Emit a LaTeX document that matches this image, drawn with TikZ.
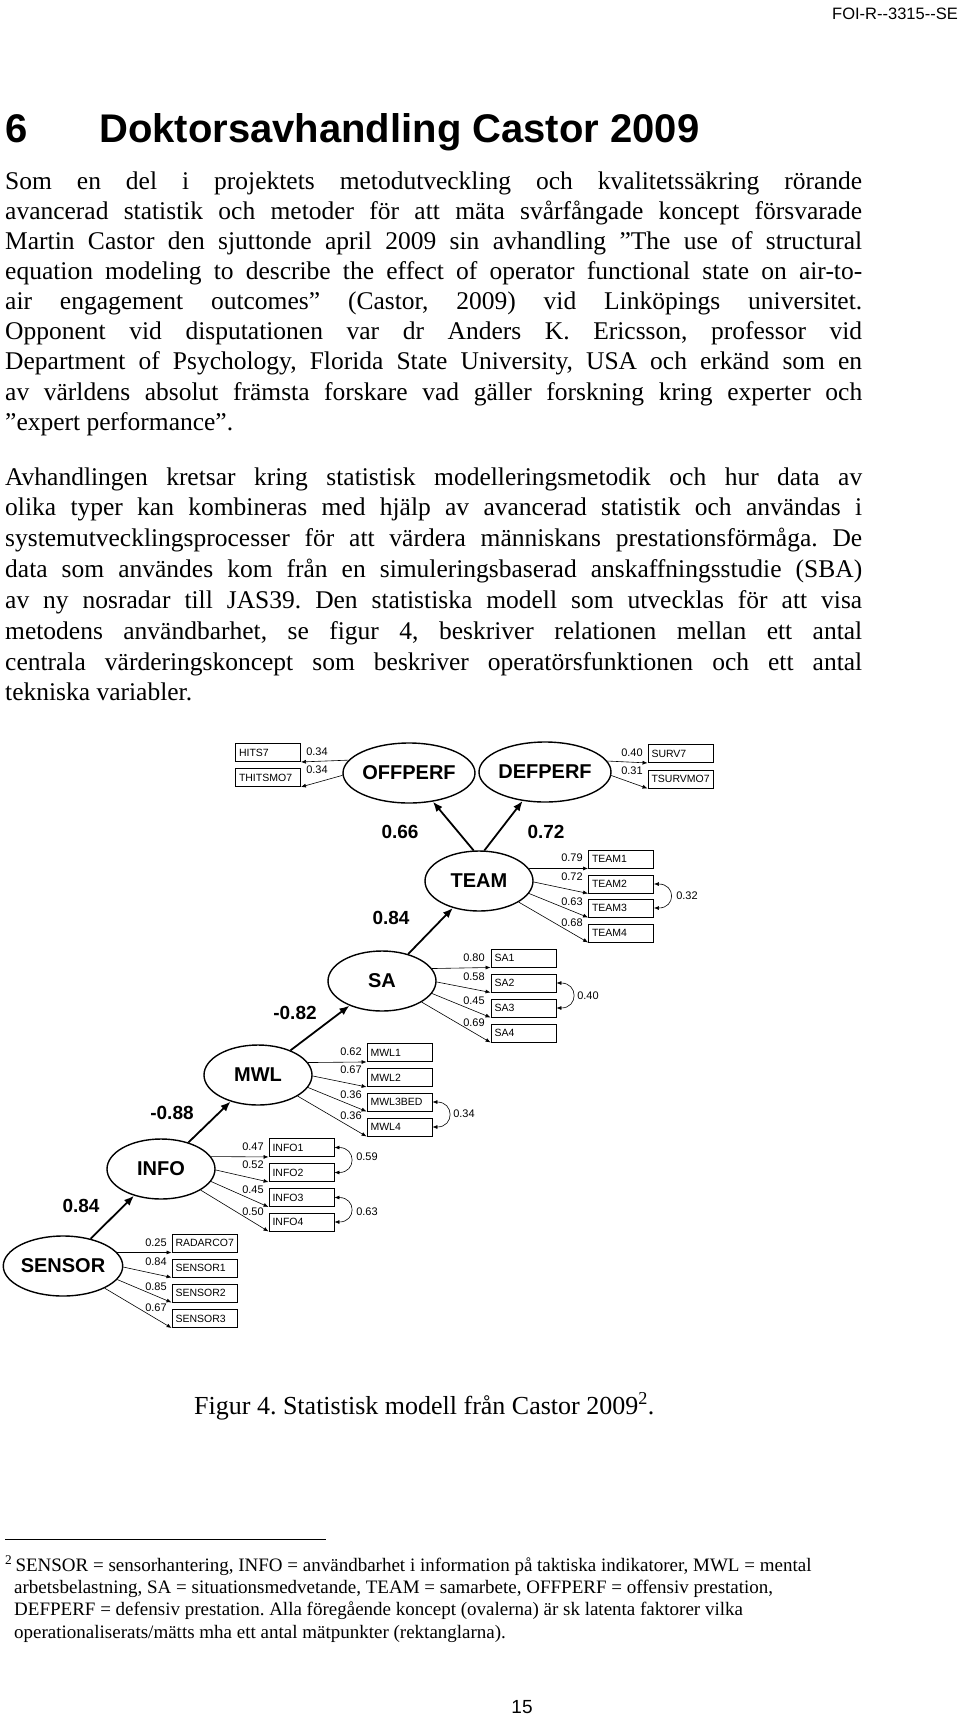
\documentclass[tikz,border=0pt]{standalone}
\usepackage{fontspec}
\setmainfont{Liberation Serif}
\newfontfamily\arialf{Liberation Sans}
\usetikzlibrary{arrows.meta,shapes.geometric}
\frenchspacing
\tikzset{
  lat/.style={ellipse,draw,line width=1.4pt,inner sep=0pt,minimum width=108pt,minimum height=60pt,font=\arialf\fontsize{20}{20}\selectfont\bfseries},
  obs/.style={rectangle,draw,line width=0.9pt,inner sep=0pt,minimum width=65pt,minimum height=18pt,text width=58pt,align=left,font=\arialf\fontsize{10.5}{10.5}\selectfont},
  coef/.style={font=\arialf\fontsize{19}{19}\selectfont\bfseries},
  ld/.style={font=\arialf\fontsize{11}{11}\selectfont,inner sep=0pt},
  thin/.style={line width=0.6pt,-{Latex[length=5pt,width=4pt]}},
  thick/.style={line width=1.8pt,-{Latex[length=10pt,width=8pt]}},
  cov/.style={line width=0.6pt,{Latex[length=5pt,width=4pt]}-{Latex[length=5pt,width=4pt]}},
  bl/.style={anchor=base west,inner sep=0pt,font=\fontsize{25.5}{25.5}\selectfont\frenchspacing},
  fn/.style={anchor=base west,inner sep=0pt,font=\fontsize{19}{19}\selectfont\frenchspacing}
}
\newcommand{\jl}[1]{\makebox[857pt][s]{#1}}
\begin{document}
\begin{tikzpicture}[x=1pt,y=-1pt]
\useasboundingbox[fill=white] (0,0) rectangle (960,1717);
% header
\node[anchor=base east,inner sep=0pt,font=\arialf\fontsize{16.5}{16.5}\selectfont] (hdr) at (958,19) {FOI-R--3315--SE};
\node[anchor=base west,inner sep=0pt,font=\arialf\fontsize{40}{40}\selectfont\bfseries] (h6) at (5,142) {6};
\node[anchor=base west,inner sep=0pt,font=\arialf\fontsize{40}{40}\selectfont\bfseries] (h) at (99,142) {Doktorsavhandling Castor 2009};
% paragraph 1
\node[bl] (p1a) at (5,189) {\jl{Som en del i projektets metodutveckling och kvalitetssäkring rörande}};
\node[bl] (p1b) at (5,219.1) {\jl{avancerad statistik och metoder för att mäta svårfångade koncept försvarade}};
\node[bl] (p1c) at (5,249.3) {\jl{Martin Castor den sjuttonde april 2009 sin avhandling ”The use of structural}};
\node[bl] (p1d) at (5,279.4) {\jl{equation modeling to describe the effect of operator functional state on air-to-}};
\node[bl] (p1e) at (5,309.6) {\jl{air engagement outcomes” (Castor, 2009) vid Linköpings universitet.}};
\node[bl] (p1f) at (5,339.7) {\jl{Opponent vid disputationen var dr Anders K. Ericsson, professor vid}};
\node[bl] (p1g) at (5,369.8) {\jl{Department of Psychology, Florida State University, USA och erkänd som en}};
\node[bl] (p1h) at (5,400) {\jl{av världens absolut främsta forskare vad gäller forskning kring experter och}};
\node[bl] (p1i) at (5,430.1) {”expert performance”.};
% paragraph 2
\node[bl] (p2a) at (5,485) {\jl{Avhandlingen kretsar kring statistisk modelleringsmetodik och hur data av}};
\node[bl] (p2b) at (5,515.8) {\jl{olika typer kan kombineras med hjälp av avancerad statistik och användas i}};
\node[bl] (p2c) at (5,546.7) {\jl{systemutvecklingsprocesser för att värdera människans prestationsförmåga. De}};
\node[bl] (p2d) at (5,577.5) {\jl{data som användes kom från en simuleringsbaserad anskaffningsstudie (SBA)}};
\node[bl] (p2e) at (5,608.4) {\jl{av ny nosradar till JAS39. Den statistiska modell som utvecklas för att visa}};
\node[bl] (p2f) at (5,639.2) {\jl{metodens användbarhet, se figur 4, beskriver relationen mellan ett antal}};
\node[bl] (p2g) at (5,670.1) {\jl{centrala värderingskoncept som beskriver operatörsfunktionen och ett antal}};
\node[bl] (p2h) at (5,700.9) {tekniska variabler.};
% latent variables
\node[lat] (offperf) at (409,773) {OFFPERF};
\node[lat] (defperf) at (545,772) {DEFPERF};
\node[lat] (team) at (479,881) {TEAM};
\node[lat] (sa) at (382,981) {SA};
\node[lat] (mwl) at (258,1075) {MWL};
\node[lat] (info) at (161,1169) {INFO};
\node[lat] (sensor) at (63,1266) {SENSOR};
% observed
\node[obs] (hits7) at (268,752.5) {HITS7};
\node[obs] (thitsmo7) at (268,777.5) {THITSMO7};
\node[obs] (surv7) at (680.5,753.5) {SURV7};
\node[obs] (tsurvmo7) at (680.5,779) {TSURVMO7};
\foreach \n/\y in {1/859,2/884,3/908,4/933}{\node[obs] (team\n) at (621,\y) {TEAM\n};}
\foreach \n/\y in {1/958,2/983,3/1008,4/1033}{\node[obs] (sa\n) at (523.5,\y) {SA\n};}
\node[obs] (mwl1) at (399.5,1052.5) {MWL1};
\node[obs] (mwl2) at (399.5,1077.5) {MWL2};
\node[obs] (mwl3) at (399.5,1102) {MWL3BED};
\node[obs] (mwl4) at (399.5,1127) {MWL4};
\foreach \n/\y in {1/1147.5,2/1172.5,3/1197.5,4/1222}{\node[obs] (info\n) at (301.5,\y) {INFO\n};}
\node[obs] (sen0) at (204.5,1243) {RADARCO7};
\node[obs] (sen1) at (204.5,1268) {SENSOR1};
\node[obs] (sen2) at (204.5,1293) {SENSOR2};
\node[obs] (sen3) at (204.5,1318.5) {SENSOR3};
% structural arrows
\draw[thick] (sensor) -- (info);
\draw[thick] (info) -- (mwl);
\draw[thick] (mwl) -- (sa);
\draw[thick] (sa) -- (team);
\draw[thick] (team.100) -- (offperf);
\draw[thick] (team.80) -- (defperf);
\node[coef] (c1) at (81,1206) {0.84};
\node[coef] (c2) at (172,1113) {-0.88};
\node[coef] (c3) at (295,1013) {-0.82};
\node[coef] (c4) at (391,918) {0.84};
\node[coef] (c5) at (400,832) {0.66};
\node[coef] (c6) at (546,832) {0.72};
% measurement arrows
\draw[thin] (offperf.168) -- (hits7.south east);
\draw[thin] (offperf.182) -- (thitsmo7.south east);
\draw[thin] (defperf.10) -- (surv7.south west);
\draw[thin] (defperf.-3) -- (tsurvmo7.south west);
\node[ld] (l1) at (317,752) {0.34};
\node[ld] (l2) at (317,770) {0.34};
\node[ld] (l3) at (632,753) {0.40};
\node[ld] (l4) at (632,771) {0.31};
\foreach \lv/\ob/\xl/\ya/\yb/\yc/\yd/\va/\vb/\vc/\vd in {
  team/team/572/858/877/902/923/0.79/0.72/0.63/0.68,
  sa/sa/474/958/977/1001/1023/0.80/0.58/0.45/0.69,
  mwl/mwl/351/1052/1070/1095/1116/0.62/0.67/0.36/0.36,
  info/info/253/1147/1165/1190/1212/0.47/0.52/0.45/0.50}{
  \draw[thin] (\lv.14) -- (\ob1.south west);
  \draw[thin] (\lv.-1) -- (\ob2.south west);
  \draw[thin] (\lv.-14) -- (\ob3.south west);
  \draw[thin] (\lv.-28) -- (\ob4.south west);
  \node[ld] at (\xl,\ya) {\va};
  \node[ld] at (\xl,\yb) {\vb};
  \node[ld] at (\xl,\yc) {\vc};
  \node[ld] at (\xl,\yd) {\vd};
}
\draw[thin] (sensor.14) -- (sen0.south west);
\draw[thin] (sensor.-1) -- (sen1.south west);
\draw[thin] (sensor.-14) -- (sen2.south west);
\draw[thin] (sensor.-28) -- (sen3.south west);
\node[ld] (s0) at (156,1243) {0.25};
\node[ld] (s1) at (156,1262) {0.84};
\node[ld] (s2) at (156,1287) {0.85};
\node[ld] (s3) at (156,1308) {0.67};
% covariances
\draw[cov] (team2.east) .. controls +(22,0) and +(22,0) .. (team3.east);
\node[ld] (k1) at (687,896) {0.32};
\draw[cov] (sa2.east) .. controls +(22,0) and +(22,0) .. (sa3.east);
\node[ld] (k2) at (588,996) {0.40};
\draw[cov] (mwl3.east) .. controls +(22,0) and +(22,0) .. (mwl4.east);
\node[ld] (k3) at (464,1114) {0.34};
\draw[cov] (info1.east) .. controls +(22,0) and +(22,0) .. (info2.east);
\node[ld] (k4) at (367,1157) {0.59};
\draw[cov] (info3.east) .. controls +(22,0) and +(22,0) .. (info4.east);
\node[ld] (k5) at (367,1212) {0.63};
% caption
\node[anchor=base west,inner sep=0pt,font=\fontsize{26}{26}\selectfont] (cap) at (194,1414) {Figur 4. Statistisk modell från Castor 2009\textsuperscript{2}.};
% footnote
\draw[line width=0.8pt] (5,1539) -- (326,1539);
\node[fn] (f0) at (5,1571) {\textsuperscript{2}\,SENSOR = sensorhantering, INFO = användbarhet i information på taktiska indikatorer, MWL = mental};
\node[fn] (f1) at (14,1593.4) {arbetsbelastning, SA = situationsmedvetande, TEAM = samarbete, OFFPERF = offensiv prestation,};
\node[fn] (f2) at (14,1615.8) {DEFPERF = defensiv prestation. Alla föregående koncept (ovalerna) är sk latenta faktorer vilka};
\node[fn] (f3) at (14,1638.2) {operationaliserats/mätts mha ett antal mätpunkter (rektanglarna).};
\node[anchor=base,inner sep=0pt,font=\arialf\fontsize{19}{19}\selectfont] (pg) at (522,1713) {15};
\end{tikzpicture}
\end{document}
